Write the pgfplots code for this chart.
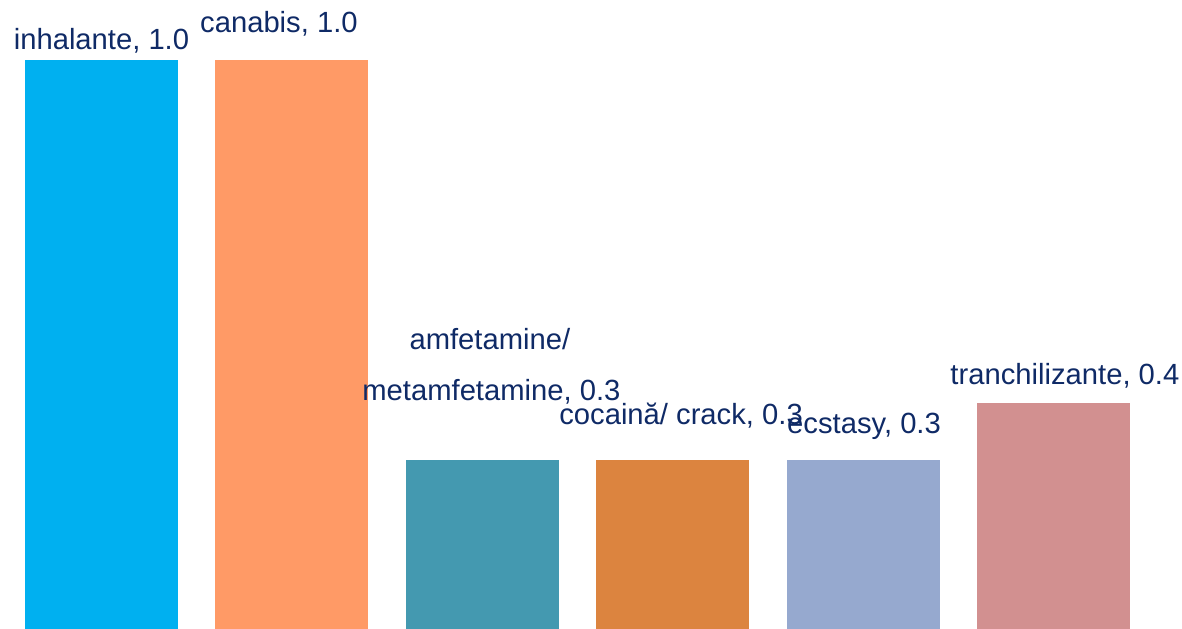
\documentclass[border=0pt]{standalone}
\usepackage{pgfplots}
\pgfplotsset{compat=1.18}
\usepackage{fontspec}
\setmainfont{Liberation Sans}
\definecolor{c1}{HTML}{00B0F0}
\definecolor{c2}{HTML}{FF9A66}
\definecolor{c3}{HTML}{4499B0}
\definecolor{c4}{HTML}{DC843F}
\definecolor{c5}{HTML}{96A9CF}
\definecolor{c6}{HTML}{D29090}
\definecolor{lbl}{HTML}{0F2A66}
\begin{document}
\begin{tikzpicture}
\begin{axis}[
  width=591pt, height=314.5pt, scale only axis,
  hide axis, clip=false,
  xmin=-0.533, xmax=5.675, ymin=0, ymax=1.1054,
  ybar, bar width=76.5pt, bar shift=0pt,
]
\addplot[fill=c1, draw=none] coordinates {(0,1.0)};
\addplot[fill=c2, draw=none] coordinates {(1,1.0)};
\addplot[fill=c3, draw=none] coordinates {(2,0.297)};
\addplot[fill=c4, draw=none] coordinates {(3,0.297)};
\addplot[fill=c5, draw=none] coordinates {(4,0.297)};
\addplot[fill=c6, draw=none] coordinates {(5,0.397)};
\begin{scope}[every node/.style={anchor=base, text=lbl, inner sep=0pt, font=\fontsize{14.6}{17.5}\selectfont}]
\node at (axis cs:0.0,1.019) {inhalante, 1.0};
\node at (axis cs:0.932,1.049) {canabis, 1.0};
\node at (axis cs:2.040,0.492) {amfetamine/};
\node at (axis cs:2.048,0.402) {metamfetamine, 0.3};
\node at (axis cs:3.044,0.360) {cocaină/ crack, 0.3};
\node at (axis cs:4.005,0.344) {ecstasy, 0.3};
\node at (axis cs:5.060,0.429) {tranchilizante, 0.4};
\end{scope}
\coordinate (bl) at (rel axis cs:0,0);
\coordinate (tr) at (rel axis cs:1,1);
\end{axis}
\pgfresetboundingbox
\path[use as bounding box] (bl) rectangle (tr);
\end{tikzpicture}
\end{document}
